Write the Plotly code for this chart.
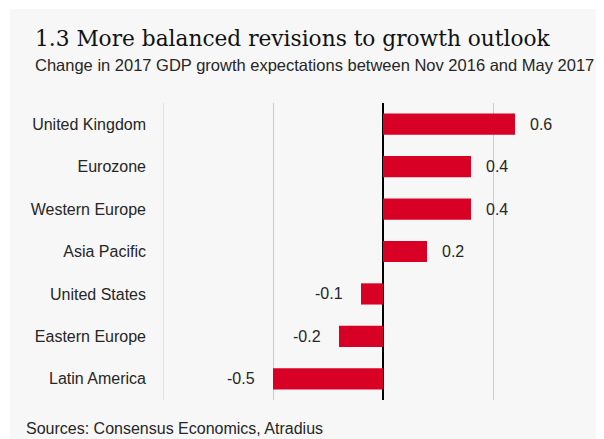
import plotly.graph_objects as go

categories = ["United Kingdom", "Eurozone", "Western Europe", "Asia Pacific",
              "United States", "Eastern Europe", "Latin America"]
values = [0.6, 0.4, 0.4, 0.2, -0.1, -0.2, -0.5]
value_labels = ["0.6", "0.4", "0.4", "0.2", "-0.1", "-0.2", "-0.5"]
x_ticks = [-1.0, -0.5, 0.0, 0.5, 1.0]

title = "1.3 More balanced revisions to growth outlook"
subtitle = "Change in 2017 GDP growth expectations between Nov 2016 and May 2017"
source = "Sources: Consensus Economics, Atradius"

# the page body adds an 8px offset; the figure is sized to fill the rest
W, H = 596, 431
L, R, T, B = 155, 1, 95, 39
pw, ph = W - L - R, H - T - B


def px(xp):
    return (xp - L) / pw


def py(yp):
    return (H - B - yp) / ph


BG = "#f7f7f7"
RED = "#d90026"
TXT = "#262626"
GRID = "#cccccc"
SANS = "Liberation Sans, Arial, sans-serif"

fig = go.Figure()
fig.add_trace(go.Bar(
    x=values, y=categories, orientation="h",
    marker=dict(color=RED, line=dict(width=0)),
    hoverinfo="skip",
))

annotations = []
for c, v, t in zip(categories, values, value_labels):
    annotations.append(dict(
        x=v, y=c, xref="x", yref="y", text=t, showarrow=False,
        xanchor="left" if v >= 0 else "right",
        xshift=13 if v >= 0 else -16,
        font=dict(family=SANS, size=16, color=TXT),
    ))

annotations += [
    dict(x=px(25), y=py(45), xref="paper", yref="paper", text=title,
         showarrow=False, xanchor="left", yanchor="bottom",
         font=dict(family="DejaVu Serif, serif", size=21.7, color="#111111")),
    dict(x=px(25), y=py(68), xref="paper", yref="paper", text=subtitle,
         showarrow=False, xanchor="left", yanchor="bottom",
         font=dict(family=SANS, size=16.5, color=TXT)),
    dict(x=px(16), y=py(431), xref="paper", yref="paper", text=source,
         showarrow=False, xanchor="left", yanchor="bottom",
         font=dict(family=SANS, size=16, color=TXT)),
]

shapes = [dict(type="rect", xref="paper", yref="paper",
               x0=px(2), x1=px(W + 5), y0=py(H + 5), y1=py(1),
               fillcolor=BG, line=dict(width=0), layer="below")]
# gridlines at the range edges (plotly skips those)
for xv in (x_ticks[0], x_ticks[-1]):
    shapes.append(dict(type="line", xref="x", yref="paper", x0=xv, x1=xv,
                       y0=0, y1=1, line=dict(color=GRID, width=1),
                       layer="below"))

fig.update_layout(
    width=W, height=H,
    margin=dict(l=L, r=R, t=T, b=B, pad=0),
    paper_bgcolor="white",
    plot_bgcolor=BG,
    bargap=0.5,
    showlegend=False,
    annotations=annotations,
    shapes=shapes,
    xaxis=dict(range=[x_ticks[0], x_ticks[-1]], tickvals=x_ticks,
               showticklabels=False,
               showgrid=True, gridcolor=GRID, gridwidth=1,
               zeroline=True, zerolinecolor="#000000", zerolinewidth=2,
               showline=False, fixedrange=True),
    yaxis=dict(autorange="reversed", showgrid=False, zeroline=False,
               showline=False, ticks="", ticklabelstandoff=16,
               tickfont=dict(family=SANS, size=16, color=TXT),
               fixedrange=True),
)

fig.write_html("out.html")
